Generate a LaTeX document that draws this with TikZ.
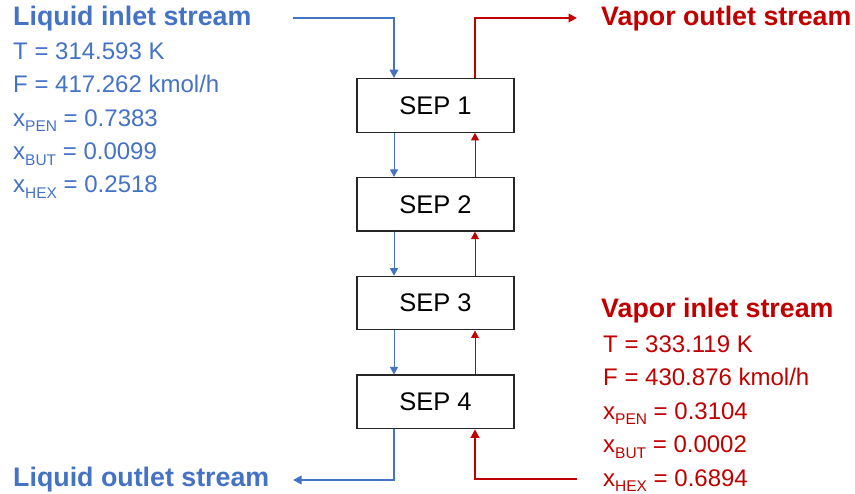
\documentclass[tikz,border=0pt]{standalone}
\usepackage{fontspec}
\setmainfont{Liberation Sans}
\usetikzlibrary{arrows.meta,positioning}

\definecolor{liqblue}{HTML}{4472C4}
\definecolor{vapred}{HTML}{C00000}

% component subscript, e.g. x\comp{PEN}
\newcommand{\comp}[1]{\raisebox{-5.5pt}{\fontsize{15.5}{16}\selectfont #1}}

\begin{document}
\begin{tikzpicture}[x=1pt, y=-1pt, node distance=44pt,
    sep node/.style={draw=black!85, line width=1.3pt, minimum width=157pt, minimum height=53.5pt,
      inner sep=0pt, font=\fontsize{25.5}{28}\selectfont},
    title/.style={inner sep=0pt, anchor=base west, font=\fontsize{26.8}{30}\selectfont\bfseries},
    data/.style={inner sep=0pt, anchor=base west, align=left, font=\fontsize{24}{33.4}\selectfont},
    liquid/.style={liqblue, line width=2pt, -{Triangle[width=8.5pt,length=8.5pt]}},
    vapor/.style={vapred, line width=2pt, -{Triangle[width=8.5pt,length=8.5pt]}},
    liquid thin/.style={liqblue, line width=0.8pt, -{Triangle[width=8pt,length=7.5pt]}},
    vapor thin/.style={vapred, line width=0.8pt, -{Triangle[width=8pt,length=7.5pt]}}]

  \useasboundingbox (0,0) rectangle (855,494);

  % separator stages
  \node[sep node] (1) at (435.5,105.5) {SEP 1};
  \node[sep node] (2) [below=of 1] {SEP 2};
  \node[sep node] (3) [below=of 2] {SEP 3};
  \node[sep node] (4) [below=of 3] {SEP 4};

  % columns of the liquid and vapour lines, stream ends
  \coordinate (lx) at (394,0);
  \coordinate (vx) at (475,0);
  \coordinate (liq in) at (293,18);
  \coordinate (vap out) at (577,18);
  \coordinate (liq out) at (293,480);
  \coordinate (vap in) at (577,479);

  % liquid goes down, vapour goes up
  \draw[liquid thin] (1.south -| lx) -- (2.north -| lx);
  \draw[liquid thin] (2.south -| lx) -- (3.north -| lx);
  \draw[liquid thin] (3.south -| lx) -- (4.north -| lx);

  \draw[vapor thin] (2.north -| vx) -- (1.south -| vx);
  \draw[vapor thin] (3.north -| vx) -- (2.south -| vx);
  \draw[vapor thin] (4.north -| vx) -- (3.south -| vx);

  \draw[liquid] (liq in) -| (1.north -| lx);
  \draw[vapor] (1.north -| vx) |- (vap out);
  \draw[liquid] (4.south -| lx) |- (liq out);
  \draw[vapor] (vap in) -| (4.south -| vx);

  % stream labels (data blocks sit on their last line)
  \node[title, liqblue] (liq in title) at (13,26) {Liquid inlet stream};
  \node[data, liqblue] (liq in data) at (13,193)
    {T = 314.593 K\\F = 417.262 kmol/h\\x\comp{PEN} = 0.7383\\x\comp{BUT} = 0.0099\\x\comp{HEX} = 0.2518};

  \node[title, vapred] (vap out title) at (601,26) {Vapor outlet stream};

  \node[title, vapred] (vap in title) at (601,318) {Vapor inlet stream};
  \node[data, vapred] (vap in data) at (603,486)
    {T = 333.119 K\\F = 430.876 kmol/h\\x\comp{PEN} = 0.3104\\x\comp{BUT} = 0.0002\\x\comp{HEX} = 0.6894};

  \node[title, liqblue] (liq out title) at (13,486) {Liquid outlet stream};

\end{tikzpicture}
\end{document}
